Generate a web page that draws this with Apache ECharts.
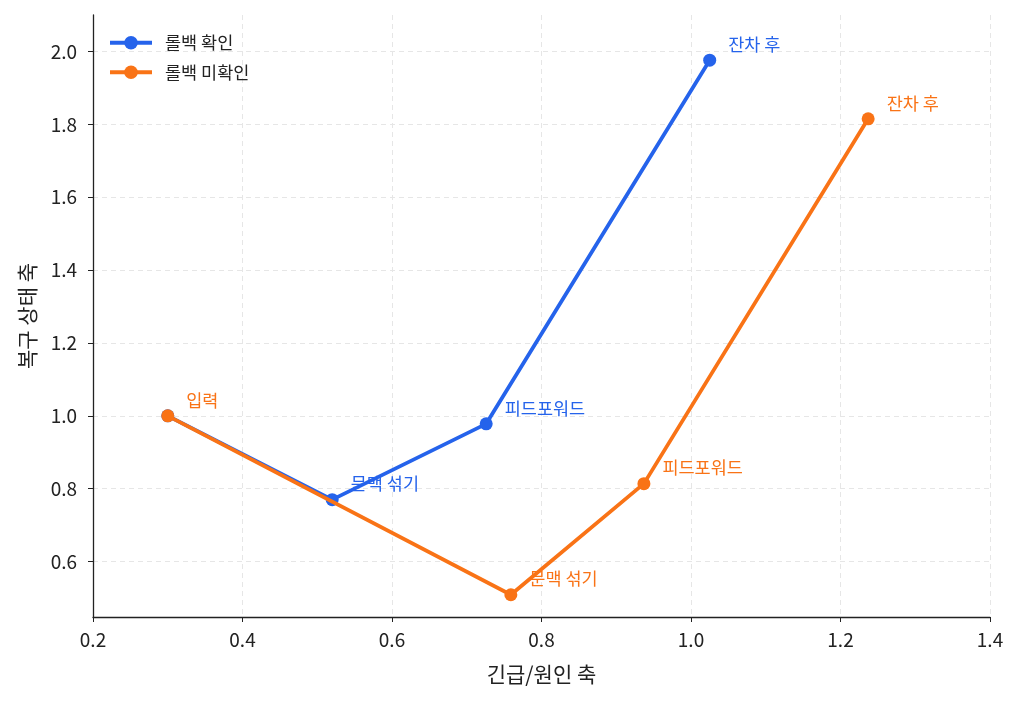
<!DOCTYPE html>
<html>
<head>
<meta charset="utf-8">
<script src="https://cdn.jsdelivr.net/npm/echarts@6/dist/echarts.min.js"></script>
<style>html,body{margin:0;padding:0;background:#fff;}#c{width:1020px;height:703px;}</style>
</head>
<body>
<div id="c"></div>
<script>
const stages = ['입력', '문맥 섞기', '피드포워드', '잔차 후'];
const seriesNames = ['롤백 확인', '롤백 미확인'];
const confirmedX = [0.3, 0.52, 0.726, 1.025];
const confirmedY = [1.0, 0.77, 0.978, 1.976];
const unconfirmedX = [0.3, 0.759, 0.937, 1.237];
const unconfirmedY = [1.0, 0.509, 0.814, 1.815];
const xTicks = [0.2, 0.4, 0.6, 0.8, 1.0, 1.2, 1.4];
const yTicks = [0.6, 0.8, 1.0, 1.2, 1.4, 1.6, 1.8, 2.0];
const colors = ['#2563eb', '#f97316'];
const FONT = '"Noto Sans CJK KR", "Noto Sans", sans-serif';

function mk(xs, ys, hideFirst) {
  return xs.map((x, i) => ({
    value: [x, ys[i]],
    name: stages[i],
    label: { show: !(hideFirst && i === 0) }
  }));
}

const chart = echarts.init(document.getElementById('c'));
const mkSeries = (name, data, color, z) => ({
  name, type: 'line', data, z,
  symbol: 'circle', symbolSize: 13,
  lineStyle: { width: 3.8, color },
  itemStyle: { color },
  label: {
    show: true, position: 'right', distance: 0, offset: [12, -16],
    formatter: p => p.name, color, fontFamily: FONT, fontSize: 17.5
  },
  emphasis: { disabled: true },
  animation: false
});

chart.setOption({
  animation: false,
  textStyle: { fontFamily: FONT },
  grid: { left: 93, right: 30, top: 15, bottom: 86, containLabel: false },
  legend: {
    left: 103, top: 29, orient: 'vertical',
    itemWidth: 42, itemHeight: 17, itemGap: 12,
    lineStyle: { width: 4 },
    textStyle: { fontFamily: FONT, fontSize: 17.5, color: '#222', padding: [0, 0, 0, 8] },
    data: seriesNames
  },
  xAxis: {
    type: 'value', min: 0.2, max: 1.4, interval: 0.2,
    name: '긴급/원인 축', nameLocation: 'middle', nameGap: 47,
    nameTextStyle: { fontFamily: FONT, fontSize: 21, color: '#222' },
    axisLine: { show: true, lineStyle: { color: '#222', width: 1.3 } },
    axisTick: { show: true, length: 5, lineStyle: { color: '#222' } },
    axisLabel: { fontFamily: FONT, fontSize: 19, color: '#222', margin: 13,
      formatter: v => v.toFixed(1), customValues: xTicks },
    splitLine: { show: true, lineStyle: { color: '#e6e6e6', type: [5, 4], width: 1 } }
  },
  yAxis: {
    type: 'value', min: 0.448, max: 2.1,
    name: '복구 상태 축', nameLocation: 'middle', nameGap: 55, nameRotate: 90,
    nameTextStyle: { fontFamily: FONT, fontSize: 21, color: '#222' },
    axisLine: { show: true, lineStyle: { color: '#222', width: 1.3 } },
    axisTick: { show: true, length: 5, lineStyle: { color: '#222' }, customValues: yTicks },
    axisLabel: { fontFamily: FONT, fontSize: 19, color: '#222', margin: 16,
      formatter: v => v.toFixed(1), customValues: yTicks },
    splitLine: { show: true, lineStyle: { color: '#e6e6e6', type: [5, 4], width: 1 } }
  },
  series: [
    mkSeries(seriesNames[0], mk(confirmedX, confirmedY, true), colors[0], 2),
    mkSeries(seriesNames[1], mk(unconfirmedX, unconfirmedY, false), colors[1], 3)
  ]
});
</script>
</body>
</html>
